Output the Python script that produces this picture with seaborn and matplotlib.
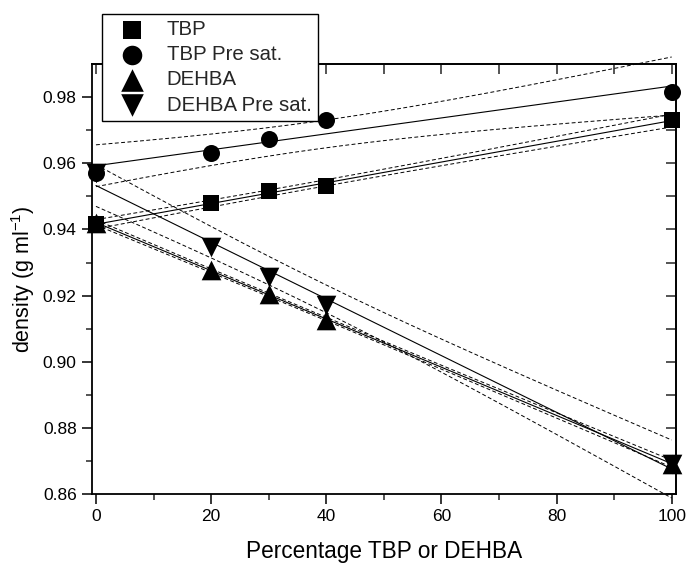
import numpy as np
import pandas as pd
import matplotlib
matplotlib.use("Agg")
import matplotlib.pyplot as plt
import seaborn as sns

# ---- data ----
pct = [0, 20, 30, 40, 100]
tbp = [0.9416, 0.9480, 0.9516, 0.9532, 0.9731]
tbp_pre = [0.9570, 0.9632, 0.9673, 0.9730, 0.9817]
dehba = [0.9420, 0.9277, 0.9206, 0.9125, 0.8692]
dehba_pre = [0.9570, 0.9347, 0.9256, 0.9171, 0.8692]
series_names = ["TBP", "TBP Pre sat.", "DEHBA", "DEHBA Pre sat."]
series_markers = ["s", "o", "^", "v"]
series_sizes = [125, 150, 200, 200]
x_ticks = [0, 20, 40, 60, 80, 100]
y_ticks = [0.86, 0.88, 0.90, 0.92, 0.94, 0.96, 0.98]

sns.set_theme(style="ticks")
plt.rcParams["font.family"] = ["Liberation Sans", "DejaVu Sans"]
plt.rcParams["mathtext.fontset"] = "custom"
plt.rcParams["mathtext.rm"] = "Liberation Sans"
plt.rcParams["mathtext.default"] = "regular"

fig = plt.figure(figsize=(6.86, 5.63), dpi=100)
ax = fig.add_axes([0.134, 0.1226, 0.851, 0.7634])

all_vals = [tbp, tbp_pre, dehba, dehba_pre]
xs = np.array(pct, dtype=float)
xfine = np.linspace(0, 100, 200)
t975_3 = 3.182  # t quantile, 3 dof

for name, vals, mk, sz in zip(series_names, all_vals, series_markers, series_sizes):
    ys = np.array(vals)
    slope, inter = np.polyfit(xs, ys, 1)
    fit = inter + slope * xfine
    resid = ys - (inter + slope * xs)
    s = np.sqrt(np.sum(resid ** 2) / (len(xs) - 2))
    sxx = np.sum((xs - xs.mean()) ** 2)
    half = t975_3 * s * np.sqrt(1 / len(xs) + (xfine - xs.mean()) ** 2 / sxx)
    ax.plot(xfine, fit, color="black", lw=0.8, clip_on=False, zorder=2)
    ax.plot(xfine, fit + half, color="black", lw=0.7, ls=(0, (4, 2.5)), clip_on=False, zorder=2)
    ax.plot(xfine, fit - half, color="black", lw=0.7, ls=(0, (4, 2.5)), clip_on=False, zorder=2)
    df = pd.DataFrame({"x": pct, "y": vals})
    sns.scatterplot(data=df, x="x", y="y", ax=ax, marker=mk, s=sz, color="black",
                    edgecolor="black", linewidth=0, label=name, clip_on=False, zorder=3)

ax.set_xlim(-0.7, 100.7)
ax.set_ylim(0.86, 0.99)
ax.set_xticks(x_ticks)
ax.set_xticks([10, 30, 50, 70, 90], minor=True)
ax.set_yticks(y_ticks)
ax.set_yticks([0.87, 0.89, 0.91, 0.93, 0.95, 0.97], minor=True)
ax.set_xticklabels([str(v) for v in x_ticks])
ax.set_yticklabels([f"{v:.2f}" for v in y_ticks])
ax.tick_params(axis="both", which="major", direction="out", length=7, width=1.1,
               labelsize=12.5, colors="black", pad=4)
ax.tick_params(axis="both", which="minor", direction="out", length=4.5, width=1.1)

for sp in ax.spines.values():
    sp.set_visible(True)
    sp.set_linewidth(1.3)
    sp.set_color("black")

sec_x = ax.secondary_xaxis("top")
sec_x.set_xticks(list(range(0, 101, 10)))
sec_x.tick_params(direction="in", length=7, width=1.1, labeltop=False)
sec_x.spines["top"].set_linewidth(1.3)
sec_y = ax.secondary_yaxis("right")
sec_y.set_yticks([0.86 + 0.01 * i for i in range(14)])
sec_y.tick_params(direction="in", length=7, width=1.1, labelright=False)
sec_y.spines["right"].set_linewidth(1.3)

ax.set_xlabel("Percentage TBP or DEHBA", fontsize=16.3, labelpad=11, color="black")
ax.set_ylabel("density (g ml$^{-1}$)", fontsize=15.5, labelpad=4, color="black")

handles, labels = ax.get_legend_handles_labels()
ax.get_legend().remove()
leg = fig.legend(handles, labels, loc="upper left", bbox_to_anchor=(0.149, 0.975),
                 frameon=True, fancybox=False, fontsize=14.7, handletextpad=0.55,
                 borderpad=0.3, labelspacing=0.3, handlelength=2.3, borderaxespad=0,
                 markerscale=1.15)
leg.get_frame().set_edgecolor("black")
leg.get_frame().set_linewidth(1.0)
leg.get_frame().set_facecolor("white")
leg.get_frame().set_alpha(1)
leg.set_zorder(10)

fig.savefig("out.png", dpi=100)
